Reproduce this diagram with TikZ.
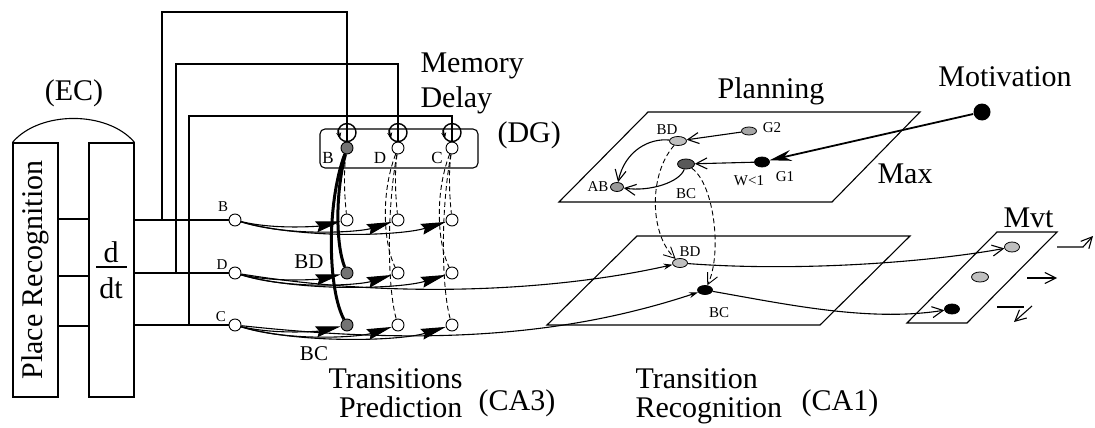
\documentclass[tikz,border=0pt]{standalone}
\usepackage{fontspec}
\setmainfont{Liberation Serif}
\usetikzlibrary{arrows.meta,shapes.geometric,calc}
\begin{document}
\begin{tikzpicture}[x=1pt,y=-1pt,line width=1.1pt,
  every node/.style={inner sep=0pt},
  big/.style={font=\fontsize{30}{29}\selectfont},
  mid/.style={font=\fontsize{21}{22}\selectfont},
  dgl/.style={font=\fontsize{17}{18}\selectfont},
  sml/.style={font=\fontsize{15}{16}\selectfont},
  cn/.style={circle,draw,fill=white,minimum size=12pt,inner sep=0pt,line width=0.9pt},
  gn/.style={cn,fill=black!55},
  el/.style={ellipse,draw,minimum width=#1,minimum height=9pt,inner sep=0pt,line width=0.8pt},
  bigarr/.style={-{Stealth[length=25pt,width=11pt,inset=3pt]}},
  smarr/.style={-{Stealth[length=9pt,width=6pt]}},
  barb/.style={-{Straight Barb[length=11pt,width=11pt]}},
  dsh/.style={dash pattern=on 5pt off 3pt,line width=0.9pt},
]
\useasboundingbox (0,0) rectangle (1095,428);

% ---------------- EC ----------------
\node[draw,minimum width=45pt,minimum height=254pt] (pr) at (35.5,270) {};
\node[big,rotate=90] (prt) at (pr.center) {Place Recognition};
\node[draw,minimum width=45pt,minimum height=254pt] (dd) at (111.5,270) {};
\draw (pr.north west) .. controls +(27,-32) and +(-27,-32) .. (dd.north east);
\node[big] (ec) at (74,93) {(EC)};
\node[big] (dnum) at (111,252) {d};
\draw (96,267) -- (127,267);
\node[big] (dden) at (111,288) {dt};
\coordinate (y1) at (0,219);
\coordinate (y2) at (0,276);
\coordinate (y3) at (0,326);
\draw (pr.east |- y1) -- (dd.west |- y1);
\draw (pr.east |- y2) -- (dd.west |- y2);
\draw (pr.east |- y3) -- (dd.west |- y3);

% ---------------- DG ----------------
\node[draw,rounded corners=5pt,minimum width=158pt,minimum height=39pt] (dg) at (399,148.5) {};
\node[gn] (dgB) at (347,148) {};
\node[cn] (dgD) at (398,148) {};
\node[cn] (dgC) at (452,148) {};
\foreach \n in {dgB,dgD,dgC}{
  \draw[line width=1.4pt] (\n.north) ++(0,-9) circle[radius=9pt];
  \draw[line width=1.4pt,-{Stealth[length=6pt,width=5pt]}] ($(\n.north)+(-9,-12)$) -- ($(\n.north)+(-7,-3)$);
}
\node[dgl] (lDGB) at (328,158) {B};
\node[dgl] (lDGD) at (380,158) {D};
\node[dgl] (lDGC) at (437,158) {C};
\node[big,anchor=base west] (mem) at (420,73) {Memory};
\node[big,anchor=base west] (del) at (420,107) {Delay};
\node[big,anchor=base west] (dgt) at (497,142) {(DG)};

% ---------------- CA3 ----------------
\node[cn] (Bl) at (235,220) {};
\node[cn] (Dl) at (235,273) {};
\node[cn] (Cl) at (235,325) {};
\node[sml] (lBl) at (223,207) {B};
\node[sml] (lDl) at (222,265) {D};
\node[sml] (lCl) at (221,317) {C};
\node[cn] (B1) at (347,220) {};
\node[cn] (B2) at (398,220) {};
\node[cn] (B3) at (452,220) {};
\node[gn] (D1) at (347,273) {};
\node[cn] (D2) at (398,273) {};
\node[cn] (D3) at (452,273) {};
\node[gn] (C1) at (347,325) {};
\node[cn] (C2) at (398,325) {};
\node[cn] (C3) at (452,325) {};
\node[mid] (lBD) at (309,262) {BD};
\node[mid] (lBC) at (314,354) {BC};

\draw (dd.east |- Bl) -- (Bl);
\draw (dd.east |- Dl) -- (Dl);
\draw (dd.east |- Cl) -- (Cl);
\coordinate (vB) at (162,12);
\coordinate (vD) at (176,64);
\coordinate (vC) at (189,116);
\draw (vB |- Bl) -- (vB) -- (vB -| dgB) -- (dgB);
\draw (vD |- Dl) -- (vD) -- (vD -| dgD) -- (dgD);
\draw (vC |- Cl) -- (vC) -- (vC -| dgC) -- (dgC);

\foreach \r in {B,D,C}{
  \draw[bigarr] (\r l) .. controls +(40,10) and +(-27,6) .. (\r 1);
  \draw[bigarr] (\r l) .. controls +(55,17) and +(-38,12) .. (\r 2);
  \draw[bigarr] (\r l) .. controls +(65,19) and +(-52,16) .. (\r 3);
}

\draw[line width=3pt] (dgB) .. controls (335,195) and (336,245) .. (D1);
\draw[line width=3pt] (dgB) .. controls (326,205) and (328,290) .. (C1);
\draw[dsh] (dgB) .. controls (343,175) and (345,200) .. (B1);
\draw[dsh] (dgD) .. controls (394,175) and (396,200) .. (B2);
\draw[dsh] (dgD) .. controls (380,195) and (384,245) .. (D2);
\draw[dsh] (dgD) .. controls (386,215) and (388,290) .. (C2);
\draw[dsh] (dgC) .. controls (448,175) and (450,200) .. (B3);
\draw[dsh] (dgC) .. controls (434,195) and (438,245) .. (D3);
\draw[dsh] (dgC) .. controls (440,215) and (442,290) .. (C3);

\node[big,align=right,anchor=east] (tr) at (463,393) {Transitions\\Prediction};
\node[big] (ca3) at (517,403) {(CA3)};

% ---------------- Planning ----------------
\draw (648,112) -- (920,112) -- (832,202) -- (559,202) -- cycle;
\node[big,anchor=base] (plt) at (771,98) {Planning};
\node[el=17pt,fill=black!25] (pBD) at (678,141) {};
\node[el=15pt,minimum height=8pt,fill=black!35] (pG2) at (749,131) {};
\node[el=17pt,minimum height=10pt,fill=black!65] (pBC) at (686,164) {};
\node[el=15pt,minimum height=10pt,fill=black] (pG1) at (762,162) {};
\node[el=13pt,fill=black!40] (pAB) at (617,187) {};
\node[sml] (lpBD) at (667,130) {BD};
\node[sml] (lpG2) at (772,128) {G2};
\node[sml] (lpBC) at (686,194) {BC};
\node[sml] (lpW) at (749,181) {W<1};
\node[sml] (lpG1) at (785,177) {G1};
\node[sml] (lpAB) at (598,187) {AB};
\node[big,anchor=base west] (max) at (877,183) {Max};
\draw[barb] (pG2) -- (pBD);
\draw[barb] (pG1) -- (pBC);
\draw[barb] (pBD) .. controls (650,138) and (625,150) .. (pAB);
\draw[barb] (pBC) .. controls (680,182) and (650,192) .. (pAB);

\node[circle,fill=black,minimum size=17pt] (mot) at (982,112) {};
\node[big,anchor=base] (mott) at (1005,87) {Motivation};
\draw[line width=1.8pt,-{Stealth[length=22pt,width=11pt]}] (mot) -- (pG1);

% ---------------- CA1 ----------------
\draw (637,236) -- (910,236) -- (820,325) -- (547,325) -- cycle;
\node[el=15pt,fill=black!25] (cBD) at (680,263) {};
\node[el=15pt,fill=black] (cBC) at (705,290) {};
\node[sml] (lcBD) at (690,252) {BD};
\node[sml] (lcBC) at (719,313) {BC};
\draw[smarr] (Dl) .. controls (400,300) and (560,290) .. (cBD);
\draw[smarr] (Cl) .. controls (420,345) and (560,338) .. (cBC);
\draw[dsh,barb] (pBD) .. controls (648,175) and (650,235) .. (cBD);
\draw[dsh,barb] (pBC) .. controls (715,185) and (722,255) .. (cBC);
\node[big,align=left,anchor=west] (trr) at (635,396) {Transition\\Recognition};
\node[big] (ca1) at (840,403) {(CA1)};

% ---------------- Mvt ----------------
\draw (997,232) -- (1057,232) -- (967,323) -- (907,323) -- cycle;
\node[big,anchor=base west] (mvt) at (1003,227) {Mvt};
\node[el=15pt,minimum height=10pt,fill=black!25] (mv1) at (1012,247) {};
\node[el=17pt,minimum height=10pt,fill=black!25] (mv2) at (980,277) {};
\node[el=15pt,minimum height=10pt,fill=black] (mv3) at (952,309) {};
\draw[barb] (cBD) .. controls (800,272) and (930,262) .. (mv1);
\draw[barb] (cBC) .. controls (790,305) and (870,322) .. (mv3);
\coordinate (o1a) at (1057,247);
\coordinate (o1b) at (1083,247);
\coordinate (o1c) at (1093,236);
\draw[barb] (o1a) -- (o1b) -- (o1c);
\coordinate (o2a) at (1027,278);
\coordinate (o2b) at (1057,278);
\draw[barb] (o2a) -- (o2b);
\coordinate (o3a) at (997,307);
\coordinate (o3b) at (1024,307);
\coordinate (o3c) at (1032,306);
\coordinate (o3d) at (1014,322);
\draw (o3a) -- (o3b);
\draw[barb] (o3c) -- (o3d);
\end{tikzpicture}
\end{document}
